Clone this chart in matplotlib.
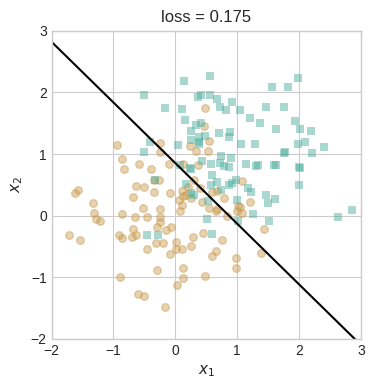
import numpy as np
import matplotlib
matplotlib.use("Agg")
import matplotlib.pyplot as plt

# class 0 (circles)
x0 = [-1.72, -1.54, -1.62, -1.58, -1.33, -1.31, -1.28, -1.21, -0.95, -0.86,
      -0.83, -0.86, -0.91, -0.86, -0.89, -0.69, -0.64, -0.66, -0.68, -0.70,
      -0.63, -0.58, -0.52, -0.50, -0.46, -0.45, -0.39, -0.34, -0.34, -0.26,
      -0.25, -0.24, -0.24, -0.25, -0.29, -0.24, -0.20, -0.31, -0.30, -0.15,
      -0.07, -0.09, -0.11, -0.08, 0.01, 0.01, 0.03, 0.10, 0.12, 0.13,
      -0.60, -0.51, -0.16, 0.48, 0.29, 0.26, 0.44, 0.60, 0.66, 0.75,
      0.98, 0.98, 1.39, 1.44, 1.20, 1.08, 1.02, 1.00, 0.84, 0.66,
      0.68, 0.78, 0.67, 0.59, 0.54, 0.43, 0.40, 0.26, 0.18, 0.13,
      0.10, 0.06, 0.07, 0.10, 0.30, 0.12, 0.23, 0.34, 0.53, 0.37,
      0.47, 0.48, 0.55, 1.08, 1.04, 0.21]
y0 = [-0.31, -0.39, 0.37, 0.41, 0.21, 0.04, -0.05, -0.08, 1.15, 0.92,
      0.75, 0.02, -0.31, -0.37, -1.00, 0.30, 0.48, -0.03, -0.22, -0.35,
      -0.32, 0.84, 0.12, 0.47, -0.03, -0.54, 0.75, 0.39, 0.57, 0.58,
      1.03, 1.18, 0.11, -0.03, -0.18, -0.10, -0.44, -0.44, -0.89, -0.23,
      -0.19, 0.37, 0.84, -0.63, -0.43, -0.54, -1.12, -0.54, -0.85, -1.01,
      -1.28, -1.30, -1.49, -0.98, -0.34, -0.49, -0.29, -0.65, -0.57, -0.40,
      -0.69, -0.85, -0.60, -0.21, 0.22, 0.04, 0.16, 0.08, -0.01, 0.07,
      0.10, 0.28, 0.40, 0.38, 0.13, 0.22, 0.45, 0.28, 0.34, 0.32,
      0.40, 0.25, 0.07, 0.18, 0.57, 0.84, 1.13, 1.05, 1.05, 0.82,
      1.45, 1.74, 1.21, 0.56, 0.14, 0.47]

# class 1 (squares)
x1 = [-0.51, -0.16, 0.14, 0.56, 0.11, 0.16, 0.36, 0.42, 0.56, 0.67,
      0.73, 0.82, 0.92, 1.04, 1.21, 1.37, 1.47, 1.56, 1.82, 1.98,
      1.75, 1.93, 2.02, 2.19, 2.10, 1.99, 2.40, 2.21, 1.75, 1.78,
      2.00, 2.02, 2.00, 1.63, 1.28, 1.06, 1.15, 1.30, 1.33, 1.59,
      1.62, 0.71, 0.89, 0.87, 0.48, 0.41, 0.34, 0.26, 0.25, 0.38,
      0.38, 0.39, 0.05, -0.41, -0.51, -0.33, 0.08, 0.24, 0.25, 0.74,
      0.90, 0.72, 0.78, 0.87, 0.58, 0.43, 0.59, 0.67, 0.57, 0.74,
      0.86, 0.92, 0.98, 1.17, 1.22, 1.00, 1.46, 1.49, 1.61, 1.26,
      1.52, 1.02, 2.63, 2.86, 0.18, 0.25, 0.30, 0.53, 0.51, 0.59,
      -0.46, -0.28]
y1 = [1.95, 1.74, 2.18, 2.27, 1.73, 1.56, 1.92, 1.96, 1.95, 1.89,
      1.77, 1.71, 1.85, 1.72, 1.58, 1.51, 1.77, 2.09, 2.08, 2.24,
      1.77, 1.54, 1.41, 1.37, 1.20, 1.17, 1.12, 1.01, 1.01, 1.03,
      0.79, 0.78, 0.49, 1.41, 1.16, 1.17, 0.83, 0.81, 0.82, 0.82,
      0.82, 1.34, 1.35, 1.27, 1.29, 1.50, 1.47, 1.37, 1.22, 1.27,
      1.17, 1.20, 1.15, 1.19, 1.04, 0.57, 0.82, 0.77, 0.75, 0.96,
      0.93, 0.86, 0.80, 0.79, 0.83, 0.89, 0.66, 0.54, 0.50, 0.42,
      0.49, 0.53, 0.58, 0.45, 0.39, 0.25, 0.33, 0.20, 0.27, 0.02,
      -0.09, -0.09, -0.03, 0.09, 0.52, 0.37, 0.34, 0.23, -0.05, -0.30,
      -0.31, -0.31]

# decision boundary: w1*x1 + w2*x2 + b = 0
w = [0.984, 1.0]
b = -0.852
loss = 0.175

plt.style.use("seaborn-v0_8-whitegrid")
fig = plt.figure(figsize=(3.74, 3.85), dpi=100)
ax = fig.add_axes([0.138, 0.12, 0.827, 0.80])

ax.scatter(x0, y0, marker="o", s=30, color="#c99c52", alpha=0.45, linewidths=1)
ax.scatter(x1, y1, marker="s", s=36, color="#44aa99", alpha=0.45, linewidths=0)

xs = np.array([-2.0, 3.0])
ys = -(w[0] * xs + b) / w[1]
ax.plot(xs, ys, color="black", lw=1.5)

ax.set_xlim(-2, 3)
ax.set_ylim(-2, 3)
ax.set_xticks(range(-2, 4))
ax.set_yticks(range(-2, 4))
ax.tick_params(labelsize=10)
ax.set_xlabel("$x_1$", fontsize=11)
ax.set_ylabel("$x_2$", fontsize=11)
ax.set_title(f"loss = {loss:.3f}", fontsize=12)

fig.savefig("out.png", dpi=100)
